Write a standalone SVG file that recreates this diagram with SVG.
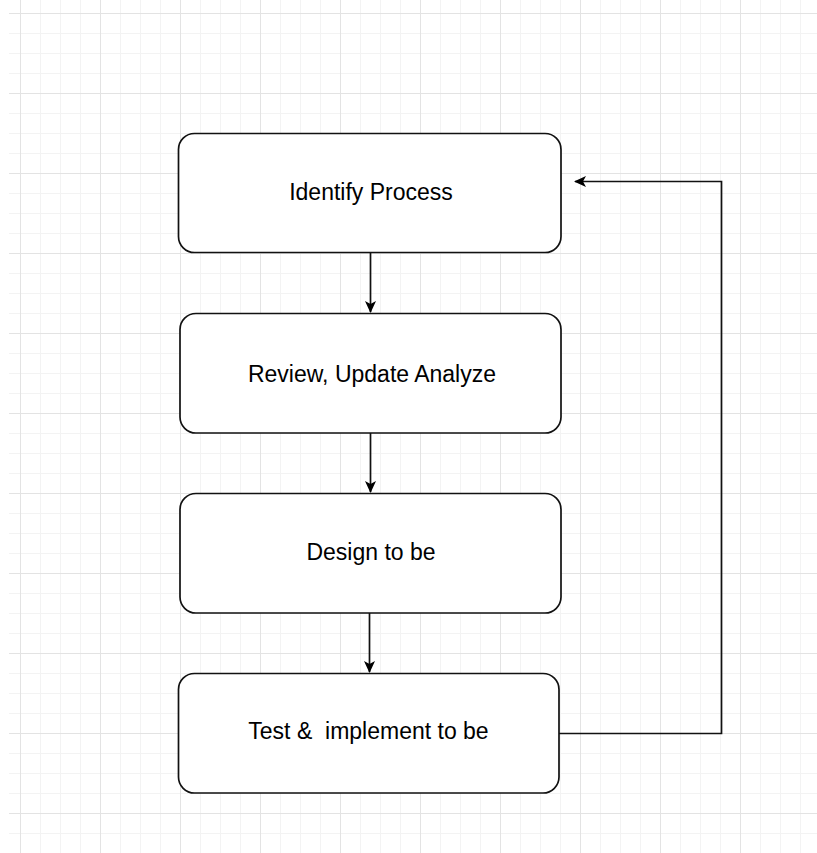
<svg xmlns="http://www.w3.org/2000/svg" width="817" height="853" viewBox="0 0 817 853">
<defs>
<pattern id="minor" x="0" y="13" width="20" height="20" patternUnits="userSpaceOnUse">
<path d="M0 0.5H20M0.5 0V20" fill="none" stroke="#f3f3f3" stroke-width="1"/>
</pattern>
<pattern id="major" x="0" y="13" width="80" height="80" patternUnits="userSpaceOnUse">
<path d="M0 0.5H80M20.5 0V80" fill="none" stroke="#e3e3e3" stroke-width="1"/>
</pattern>
<marker id="arrow" viewBox="0 0 12 12" refX="11" refY="6" markerWidth="12" markerHeight="12" markerUnits="userSpaceOnUse" orient="auto">
<path d="M0 0.5L12 6L0 11.5L3 6Z" fill="#000"/>
</marker>
<style>
.box{fill:#fff;stroke:#111;stroke-width:1.7}
.lbl{font-family:"Liberation Sans",Arial,sans-serif;font-size:23px;fill:#000;text-anchor:middle;white-space:pre}
.edge{fill:none;stroke:#111;stroke-width:1.7}
</style>
</defs>
<rect width="817" height="853" fill="#fff"/>
<rect x="9" y="0" width="808" height="853" fill="url(#minor)"/>
<rect x="9" y="0" width="808" height="853" fill="url(#major)"/>
<g id="connectors">
<path class="edge" d="M370.5 253V312" marker-end="url(#arrow)"/>
<path class="edge" d="M370.5 433V492" marker-end="url(#arrow)"/>
<path class="edge" d="M369.5 613V672" marker-end="url(#arrow)"/>
<path class="edge" d="M559 733.5H721.5V181.5H575" marker-end="url(#arrow)"/>
</g>
<g id="node-identify">
<rect class="box" x="178.5" y="133.5" width="382.5" height="119" rx="16"/>
<text class="lbl" x="371" y="199.5">Identify Process</text>
</g>
<g id="node-review">
<rect class="box" x="180" y="313.5" width="381" height="119.5" rx="16"/>
<text class="lbl" x="372" y="381.5">Review, Update Analyze</text>
</g>
<g id="node-design">
<rect class="box" x="180" y="493.5" width="381" height="119.5" rx="16"/>
<text class="lbl" x="371" y="560">Design to be</text>
</g>
<g id="node-test">
<rect class="box" x="178.5" y="673.5" width="380.5" height="119.5" rx="16"/>
<text class="lbl" x="368.5" y="739" xml:space="preserve">Test &amp;  implement to be</text>
</g>
</svg>
